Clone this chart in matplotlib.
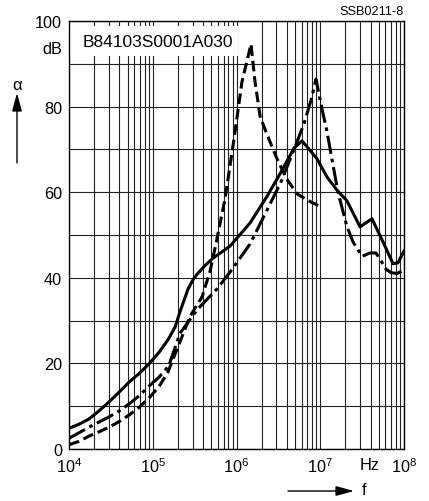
import matplotlib.pyplot as plt
from matplotlib.ticker import LogLocator, NullFormatter
from matplotlib.patches import Rectangle

plt.rcParams['font.family'] = ['Liberation Sans', 'DejaVu Sans']
plt.rcParams['mathtext.fontset'] = 'custom'
plt.rcParams['mathtext.rm'] = 'Liberation Sans'

# Curve read-outs: frequency in Hz, attenuation in dB
solid_f = [1.00e4, 1.32e4, 1.73e4, 2.28e4, 3.01e4, 3.97e4, 5.20e4, 6.86e4, 9.02e4,
           1.19e5, 1.52e5, 1.85e5, 2.11e5, 2.64e5, 3.02e5, 3.37e5, 4.09e5,
           5.09e5, 8.36e5, 1.45e6, 2.31e6, 3.40e6, 4.86e6, 6.05e6, 7.76e6, 9.14e6,
           1.21e7, 1.58e7, 2.08e7, 2.99e7, 4.15e7, 5.61e7, 7.40e7, 8.47e7, 1.00e8]
solid_db = [4.8, 5.8, 7.0, 8.9, 11.0, 13.3, 15.6, 17.6, 19.9,
            22.6, 25.5, 28.5, 32.0, 37.4, 39.5, 40.8, 42.6,
            44.4, 47.4, 52.8, 59.0, 64.7, 70.3, 72.0, 69.5, 67.8,
            63.5, 60.5, 58.0, 51.9, 53.8, 48.4, 43.3, 43.5, 46.3]

dashed_f = [1.00e4, 1.32e4, 1.73e4, 2.28e4, 3.01e4, 3.97e4, 5.20e4, 6.86e4, 9.02e4,
            1.19e5, 1.52e5, 2.11e5, 2.79e5, 3.87e5,
            4.83e5, 5.69e5, 7.29e5, 9.34e5, 1.16e6, 1.49e6, 1.66e6, 1.91e6, 2.31e6,
            3.05e6, 4.01e6, 5.28e6, 7.76e6, 1.05e7]
dashed_db = [1.0, 1.8, 3.0, 4.0, 5.1, 6.4, 7.9, 9.7, 11.9,
             14.6, 18.0, 25.0, 31.0, 35.5,
             41.5, 48.0, 58.4, 72.4, 85.7, 94.6, 86.0, 77.8, 73.5,
             67.8, 63.0, 59.6, 57.7, 56.5]

dashdot_f = [1.00e4, 1.32e4, 1.73e4, 2.28e4, 3.01e4, 3.97e4, 5.20e4, 6.86e4, 9.02e4,
             1.19e5, 1.56e5, 2.11e5, 3.37e5, 5.85e5,
             8.36e5, 1.45e6, 2.13e6, 3.40e6, 4.86e6, 6.40e6, 7.76e6, 8.90e6, 1.05e7,
             1.21e7, 1.34e7, 1.63e7, 2.08e7, 2.46e7, 3.15e7, 3.93e7, 4.63e7, 5.31e7,
             6.10e7, 7.00e7, 8.24e7, 1.00e8]
dashdot_db = [2.5, 3.8, 5.1, 6.3, 7.5, 8.9, 10.5, 12.4, 14.7,
              16.8, 19.5, 27.0, 32.5, 37.4,
              41.3, 47.9, 54.4, 62.4, 70.0, 76.0, 81.5, 86.4, 79.4,
              74.0, 69.0, 60.0, 52.0, 48.4, 45.0, 45.8, 45.8, 44.0,
              42.0, 41.2, 41.0, 41.8]

x_ticks = [1e4, 1e5, 1e6, 1e7, 1e8]
x_labels = [r'$\mathregular{10^{4}}$', r'$\mathregular{10^{5}}$', r'$\mathregular{10^{6}}$',
            r'$\mathregular{10^{7}}$', r'$\mathregular{10^{8}}$']
y_ticks = [0, 20, 40, 60, 80, 100]
y_minor = [10, 30, 50, 70, 90]

W, H = 429, 502
fig = plt.figure(figsize=(W / 100, H / 100), dpi=100)
ax = fig.add_axes([69 / W, 1 - 450 / H, 335 / W, 428 / H])

ax.set_xscale('log')
ax.set_xlim(1e4, 1e8)
ax.set_ylim(0, 100)

style = dict(color='black', lw=2.2, zorder=3, solid_joinstyle='round',
             dash_joinstyle='round', dash_capstyle='butt')
ax.plot(solid_f, solid_db, **style)
ax.plot(dashed_f, dashed_db, ls=(0, (3.5, 1.6)), **style)
ax.plot(dashdot_f, dashdot_db, ls=(0, (6, 1.6, 1.2, 1.6)), **style)

ax.set_xticks(x_ticks, x_labels)
ax.xaxis.set_minor_locator(LogLocator(base=10, subs=range(2, 10), numticks=20))
ax.xaxis.set_minor_formatter(NullFormatter())
ax.set_yticks(y_ticks, [str(v) for v in y_ticks])
ax.set_yticks(y_minor, minor=True)
ax.tick_params(which='both', length=0, labelsize=11.7)
ax.tick_params(axis='x', pad=5)
ax.tick_params(axis='y', pad=5)
ax.set_axisbelow(True)
ax.grid(which='both', color='#222222', lw=0.8)
for s in ax.spines.values():
    s.set_linewidth(1.0)

# white label box over the grid
ax.add_patch(Rectangle((1e4, 91.8), 1.04e6 - 1e4, 98.8 - 91.8, facecolor='white',
                       edgecolor='none', zorder=1.5))
ax.text(1.45e4, 95.2, 'B84103S0001A030', fontsize=12.5, va='center', ha='left', zorder=4)

fig.text(62 / W, 1 - 49 / H, 'dB', fontsize=11.7, ha='right', va='center')
fig.text(370 / W, 1 - 466 / H, 'Hz', fontsize=11.7, ha='center', va='center')
fig.text(404 / W, 1 - 12 / H, 'SSB0211-8', fontsize=9.2, ha='right', va='center')

# axis arrows
fig.text(17 / W, 1 - 86 / H, 'α', fontsize=12, ha='center', va='center')
ax.annotate('', xy=(17 / W, 1 - 94 / H), xytext=(17 / W, 1 - 164 / H),
            xycoords='figure fraction', textcoords='figure fraction',
            arrowprops=dict(arrowstyle='-|>,head_length=1.1,head_width=0.3',
                            mutation_scale=10, color='black', lw=1, shrinkA=0, shrinkB=0))
fig.text(364 / W, 1 - 491 / H, 'f', fontsize=12, ha='center', va='center')
ax.annotate('', xy=(354 / W, 1 - 492 / H), xytext=(288 / W, 1 - 492 / H),
            xycoords='figure fraction', textcoords='figure fraction',
            arrowprops=dict(arrowstyle='-|>,head_length=1.1,head_width=0.3',
                            mutation_scale=10, color='black', lw=1, shrinkA=0, shrinkB=0))

fig.savefig('out.png', dpi=100)
